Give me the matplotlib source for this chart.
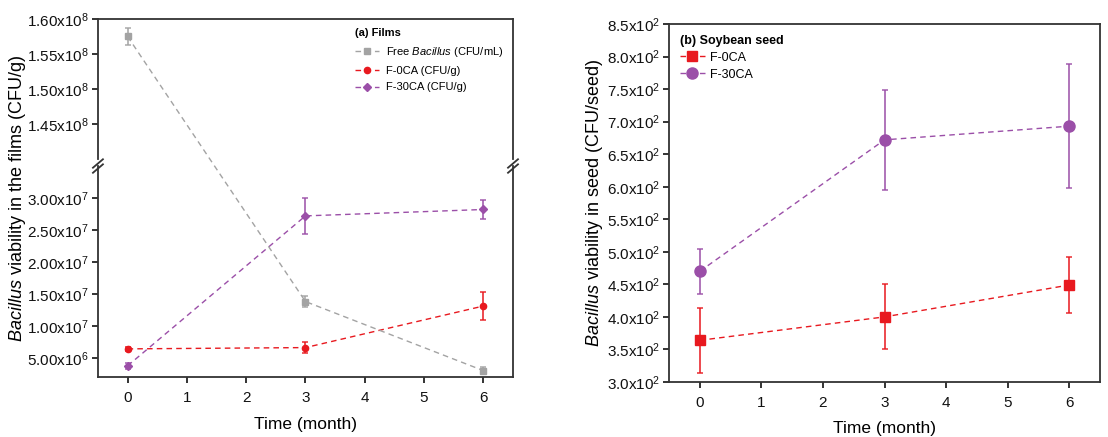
import matplotlib.pyplot as plt
from matplotlib.lines import Line2D
import numpy as np

plt.rcParams['font.family'] = ['Liberation Sans', 'DejaVu Sans']
plt.rcParams['mathtext.fontset'] = 'custom'
plt.rcParams['mathtext.rm'] = 'Liberation Sans'
plt.rcParams['mathtext.it'] = 'Liberation Sans:italic'

# Data
months = [0, 3, 6]

free_bac = [1.575e8, 1.38e7, 3.0e6]
free_bac_err = [1.2e6, 0.85e6, 0.5e6]
f0_film = [6.4e6, 6.6e6, 1.31e7]
f0_film_err = [0.3e6, 0.85e6, 2.2e6]
f30_film = [3.75e6, 2.72e7, 2.82e7]
f30_film_err = [0.45e6, 2.85e6, 1.5e6]

f0_seed = [364, 400, 449]
f0_seed_err = [50, 50, 43]
f30_seed = [470, 672, 693]
f30_seed_err = [35, 77, 95]

upper_ticks = [1.45e8, 1.50e8, 1.55e8, 1.60e8]
upper_labels = [r'1.45x10$^{8}$', r'1.50x10$^{8}$', r'1.55x10$^{8}$', r'1.60x10$^{8}$']
lower_ticks = [5e6, 1e7, 1.5e7, 2e7, 2.5e7, 3e7]
lower_labels = [r'5.00x10$^{6}$', r'1.00x10$^{7}$', r'1.50x10$^{7}$',
                r'2.00x10$^{7}$', r'2.50x10$^{7}$', r'3.00x10$^{7}$']
seed_ticks = np.arange(300, 851, 50)
seed_labels = [r'%.1fx10$^{2}$' % (t / 100) for t in seed_ticks]

gray = '#a3a3a3'
red = '#e8191f'
purple = '#9b4fa8'
spine_c = '#333333'
dash = (0, (4, 3))

fig = plt.figure(figsize=(11.08, 4.37), dpi=100)
ax_up = fig.add_axes([0.0884, 0.6362, 0.3746, 0.3204])
ax_lo = fig.add_axes([0.0884, 0.1373, 0.3746, 0.4828])
ax_r = fig.add_axes([0.6038, 0.1259, 0.389, 0.8192])


def style(ax):
    for s in ax.spines.values():
        s.set_linewidth(1.3)
        s.set_color(spine_c)
    ax.tick_params(direction='out', length=4, width=1.2, labelsize=11, colors='#111111')
    ax.tick_params(axis='x', pad=6)
    ax.tick_params(axis='y', pad=2.5)
    ax.set_xlim(-0.5, 6.5)


def series(ax, y, err, color, marker, ms, line=True):
    ax.errorbar(months, y, yerr=err, fmt='none', ecolor=color, elinewidth=1.3,
                capsize=2.5, capthick=1.2, alpha=0.85)
    ax.plot(months, y, color=color, linestyle=dash if line else 'none', linewidth=1,
            marker=marker, markersize=ms)


def handle(color, marker, ms, label):
    return Line2D([], [], color=color, linestyle=dash, linewidth=1, marker=marker,
                  markersize=ms, label=label)


for ax in (ax_up, ax_lo):
    style(ax)
    series(ax, free_bac, free_bac_err, gray, 's', 4.5, line=False)
    series(ax, f0_film, f0_film_err, red, 'o', 4.5)
    series(ax, f30_film, f30_film_err, purple, 'D', 4)

ax_up.set_ylim(1.40e8, 1.60e8)
ax_up.set_yticks(upper_ticks)
ax_up.set_yticklabels(upper_labels)
ax_up.spines['bottom'].set_visible(False)
ax_up.tick_params(axis='x', bottom=False, labelbottom=False)

ax_lo.set_ylim(2e6, 3.5e7)
ax_lo.set_yticks(lower_ticks)
ax_lo.set_yticklabels(lower_labels)
ax_lo.spines['top'].set_visible(False)
ax_lo.set_xticks(range(7))
ax_lo.set_xlabel('Time (month)', fontsize=12.5, labelpad=9)

# free Bacillus line runs straight through the axis break
pts = [ax_up.transData.transform((months[0], free_bac[0]))]
pts += [ax_lo.transData.transform((m, v)) for m, v in zip(months[1:], free_bac[1:])]
pts = fig.transFigure.inverted().transform(np.array(pts))
fig.add_artist(Line2D(pts[:, 0], pts[:, 1], color=gray, linestyle=dash, linewidth=1,
                      transform=fig.transFigure))

# break marks
kw = dict(color=spine_c, linewidth=1.3, clip_on=False)
for xx in (0, 1):
    for dy in (-0.012, 0.012):
        ax_lo.plot([xx - 0.012, xx + 0.012], [1.0 + dy - 0.02, 1.0 + dy + 0.02],
                   transform=ax_lo.transAxes, **kw)

fig.text(0.006, 0.545, r'$\it{Bacillus}$ viability in the films (CFU/g)', rotation=90,
         va='center', ha='left', fontsize=13)

hs = [handle(gray, 's', 4.5, r'Free $\it{Bacillus}$ (CFU/mL)'),
      handle(red, 'o', 4.5, 'F-0CA (CFU/g)'),
      handle(purple, 'D', 4, 'F-30CA (CFU/g)')]
leg = ax_up.legend(handles=hs, loc='upper right', title='(a) Films', fontsize=8, frameon=False,
                   handlelength=2.2, handletextpad=0.6, borderaxespad=0.45, labelspacing=0.6)
leg.get_title().set_fontweight('bold')
leg.get_title().set_fontsize(8)
leg._legend_box.align = 'left'

# right panel
style(ax_r)
series(ax_r, f0_seed, f0_seed_err, red, 's', 7.5)
series(ax_r, f30_seed, f30_seed_err, purple, 'o', 8)
ax_r.set_ylim(300, 850)
ax_r.set_yticks(seed_ticks)
ax_r.set_yticklabels(seed_labels)
ax_r.set_xticks(range(7))
ax_r.set_xlabel('Time (month)', fontsize=12.5, labelpad=8)
ax_r.set_ylabel(r'$\it{Bacillus}$ viability in seed (CFU/seed)', fontsize=13, labelpad=1)

hs2 = [handle(red, 's', 7.5, 'F-0CA'), handle(purple, 'o', 8, 'F-30CA')]
leg2 = ax_r.legend(handles=hs2, loc='upper left', title='(b) Soybean seed', fontsize=9,
                   frameon=False, handlelength=2.0, handletextpad=0.4,
                   borderaxespad=0.45, labelspacing=0.4)
leg2.get_title().set_fontweight('bold')
leg2.get_title().set_fontsize(9)
leg2._legend_box.align = 'left'

fig.savefig('out.png', dpi=100)
